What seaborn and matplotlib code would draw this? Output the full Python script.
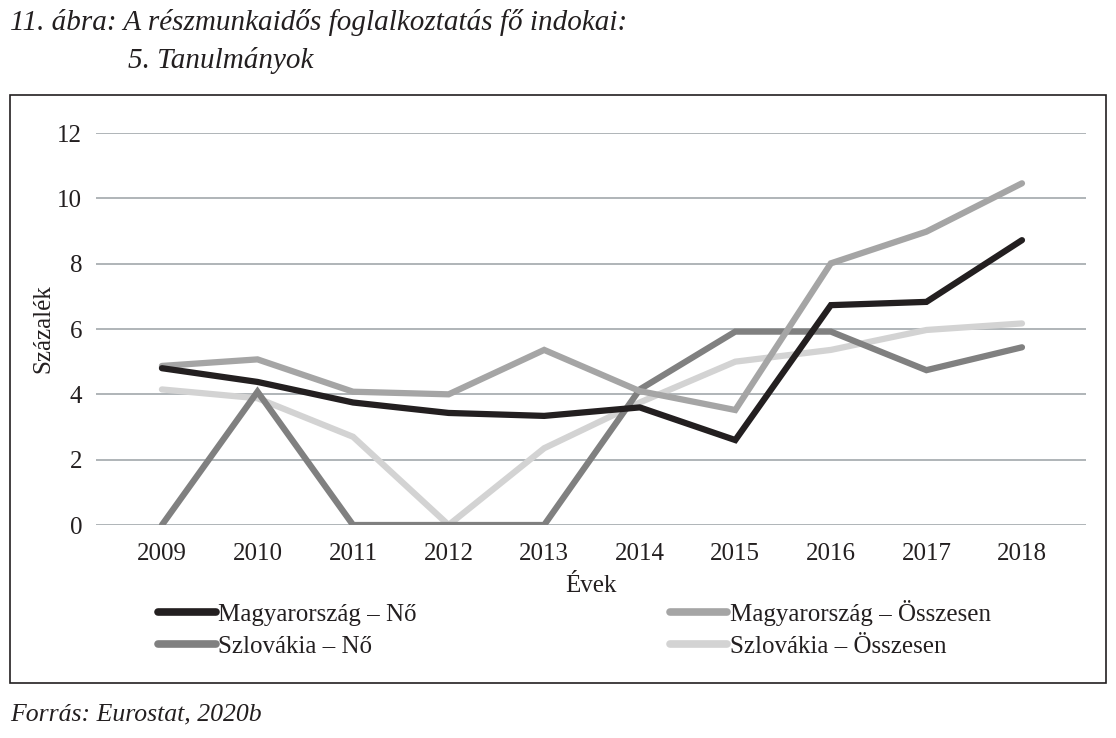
import matplotlib
matplotlib.use("Agg")
import matplotlib.pyplot as plt
from matplotlib.patches import Rectangle
from matplotlib.lines import Line2D
import seaborn as sns
import pandas as pd

years = [2009, 2010, 2011, 2012, 2013, 2014, 2015, 2016, 2017, 2018]
hu_female = [4.8, 4.38, 3.75, 3.43, 3.34, 3.6, 2.6, 6.73, 6.83, 8.72]
hu_total = [4.87, 5.07, 4.08, 4.0, 5.36, 4.1, 3.52, 8.01, 8.98, 10.46]
sk_female = [0.0, 4.08, 0.0, 0.0, 0.0, 4.15, 5.92, 5.92, 4.74, 5.44]
sk_total = [4.15, 3.88, 2.7, 0.0, 2.35, 3.75, 5.0, 5.36, 5.97, 6.17]

series_names = ["Magyarország – Nő", "Magyarország – Összesen",
                "Szlovákia – Nő", "Szlovákia – Összesen"]
colors = ["#231f20", "#a5a5a5", "#808080", "#d3d3d3"]
y_ticks = [0, 2, 4, 6, 8, 10, 12]

rows = []
for name, vals in zip(series_names, [hu_female, hu_total, sk_female, sk_total]):
    for y, v in zip(years, vals):
        rows.append({"Év": y, "Érték": v, "Sorozat": name})
df = pd.DataFrame(rows)

sns.set_theme(style="white")
plt.rcParams["font.family"] = ["Liberation Serif", "DejaVu Serif"]

FS = 18
TXT = "#231f20"

fig = plt.figure(figsize=(11.16, 7.38), dpi=100)
ax = fig.add_axes([96 / 1116, 1 - 525 / 738, (1086 - 96) / 1116, (525 - 133) / 738])

order_draw = ["Szlovákia – Összesen", "Szlovákia – Nő", "Magyarország – Összesen", "Magyarország – Nő"]
pal = dict(zip(series_names, colors))
for name in order_draw:
    sub = df[df["Sorozat"] == name]
    sns.lineplot(data=sub, x="Év", y="Érték", color=pal[name], lw=4.5,
                 ax=ax, legend=False, solid_capstyle="round", solid_joinstyle="miter")

ax.set_xlim(2009 - 0.69, 2018 + 0.67)
ax.set_ylim(0, 12)
ax.set_yticks(y_ticks)
ax.set_yticklabels([str(t) for t in y_ticks])
ax.set_xticks(years)
ax.set_xticklabels([str(y) for y in years])
ax.yaxis.grid(True, color="#9aa0a4", lw=1.1)
ax.set_axisbelow(True)
for s in ax.spines.values():
    s.set_visible(False)
ax.tick_params(axis="both", length=0, labelsize=FS, colors=TXT)
ax.tick_params(axis="x", pad=13)
ax.tick_params(axis="y", pad=10)
ax.set_xlabel("Évek", fontsize=FS, color=TXT)
ax.set_ylabel("Százalék", fontsize=FS, color=TXT)
ax.xaxis.set_label_coords((591 - 96) / 990, (525 - 575) / 392)
ax.yaxis.set_label_coords((54 - 96) / 990, 0.5)
ax.patch.set_alpha(0)

labels = ["Magyarország – Nő", "Szlovákia – Nő", "Magyarország – Összesen", "Szlovákia – Összesen"]
handles = [Line2D([0], [0], color=pal[n], lw=5.5, solid_capstyle="round") for n in labels]
fig.legend(handles, labels, loc="upper left", bbox_to_anchor=(158 / 1116, 1 - 600 / 738),
           ncol=2, frameon=False, fontsize=FS, handlelength=2.3, handletextpad=0.12,
           columnspacing=10.1, labelspacing=0.38, borderaxespad=0, borderpad=0,
           labelcolor=TXT)

fig.patches.append(Rectangle((10 / 1116, 1 - 683 / 738), (1106 - 10) / 1116, (683 - 95) / 738,
                             transform=fig.transFigure, fill=False, ec=TXT, lw=1.2))

fig.text(10 / 1116, 1 - 22 / 738, "11. ábra: A részmunkaidős foglalkoztatás fő indokai:",
         fontsize=21, style="italic", va="center", ha="left", color=TXT)
fig.text(128 / 1116, 1 - 60 / 738, "5. Tanulmányok",
         fontsize=21, style="italic", va="center", ha="left", color=TXT)
fig.text(10 / 1116, 1 - 714 / 738, "Forrás: Eurostat, 2020b",
         fontsize=18.5, style="italic", va="center", ha="left", color=TXT)

fig.savefig("out.png", dpi=100)
